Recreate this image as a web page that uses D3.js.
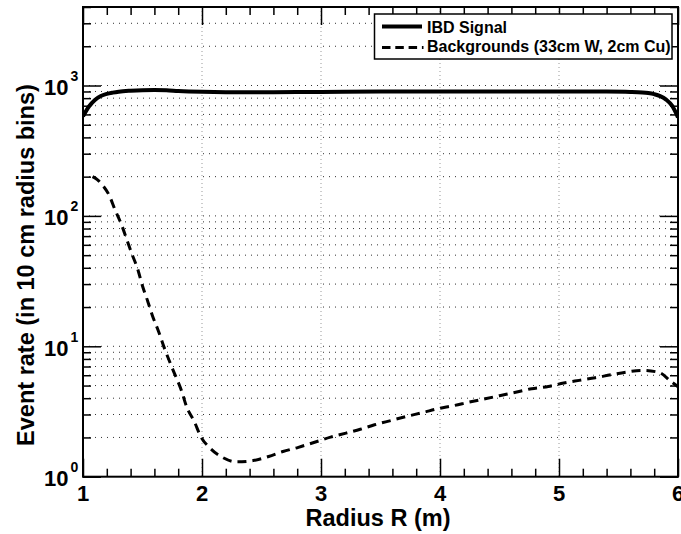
<!DOCTYPE html>
<html><head><meta charset="utf-8">
<script src="https://cdn.jsdelivr.net/npm/d3@7"></script>
<style>
body{margin:0;background:#fff}
svg{display:block}
text{font-family:"Liberation Sans",Arial,Helvetica,sans-serif;font-weight:bold;fill:#000}
</style>
</head><body>
<svg id="chart" width="681" height="534"></svg>
<script>
// ---- data ----
const radiusSignal = [1.0, 1.05, 1.1, 1.15, 1.2, 1.25, 1.3, 1.4, 1.5, 1.6, 1.7, 1.8, 2.0, 2.2, 2.4, 2.6, 3.0, 3.5, 4.0, 4.5, 5.0, 5.4, 5.6, 5.7, 5.75, 5.8, 5.85, 5.9, 5.95, 6.0];
const ibdSignal    = [580, 690, 775, 830, 862, 882, 897, 912, 920, 922, 918, 908, 895, 888, 886, 888, 893, 898, 898, 898, 900, 898, 893, 885, 875, 858, 830, 780, 700, 570];
const radiusBkg = [1.08, 1.12, 1.16, 1.22, 1.27, 1.325, 1.37, 1.415, 1.46, 1.50, 1.545, 1.585, 1.635, 1.68, 1.75, 1.83, 1.87, 1.935, 1.99, 2.07, 2.17, 2.29, 2.43, 2.56, 2.68, 2.81, 2.94, 3.08, 3.21, 3.33, 3.45, 3.59, 3.72, 3.86, 3.98, 4.11, 4.245, 4.38, 4.50, 4.645, 4.77, 4.91, 5.04, 5.17, 5.305, 5.44, 5.57, 5.70, 5.84, 5.94, 6.0];
const bkgRate   = [200, 190, 174, 144, 111, 85, 65, 50, 39, 29, 22, 17, 13, 9.9, 6.8, 4.5, 3.45, 2.65, 2.03, 1.65, 1.41, 1.30, 1.33, 1.43, 1.56, 1.68, 1.83, 2.01, 2.16, 2.31, 2.5, 2.70, 2.90, 3.11, 3.32, 3.50, 3.73, 3.96, 4.18, 4.46, 4.73, 4.92, 5.23, 5.48, 5.74, 6.06, 6.35, 6.54, 6.31, 5.38, 4.9];
const xTickLabels = ["1", "2", "3", "4", "5", "6"];
const xMajor = [1, 2, 3, 4, 5, 6];
const yDecades = [1, 10, 100, 1000];
const yDecadeExp = ["0", "1", "2", "3"];
const legendLabels = ["IBD Signal", "Backgrounds (33cm W, 2cm Cu)"];
const xTitle = "Radius R (m)";
const yTitle = "Event rate (in 10 cm radius bins)";

// ---- layout ----
const L = 83, R = 678, T = 7, B = 476.7;
const svg = d3.select("#chart");
const x = d3.scaleLinear().domain([1, 6]).range([L, R]);
const y = d3.scaleLog().domain([1, 4000]).range([B, T]);

const xMinor = d3.range(1, 6.001, 0.2).map(v => +v.toFixed(1)).filter(v => !xMajor.includes(v));
const yAll = [];
yDecades.forEach(d => { for (let k = 1; k <= 9; k++) { const v = k * d; if (v <= 4000) yAll.push(v); } });
const yMinor = yAll.filter(v => !yDecades.includes(v));

// grid
const grid = svg.append("g");
grid.selectAll("line.h").data(yAll.filter(v => v > 1)).join("line")
  .attr("x1", L).attr("x2", R).attr("y1", d => y(d)).attr("y2", d => y(d))
  .attr("stroke", "#333").attr("stroke-width", 1).attr("stroke-dasharray", "1,5");
grid.selectAll("line.v").data(xMajor.filter(v => v > 1 && v < 6)).join("line")
  .attr("y1", T).attr("y2", B).attr("x1", d => x(d)).attr("x2", d => x(d))
  .attr("stroke", "#999").attr("stroke-width", 1).attr("stroke-dasharray", "1,3");

// axes ticks (inward)
function ticks(axisFn, scale, vals, size, transform) {
  const g = svg.append("g").attr("transform", transform)
    .call(axisFn(scale).tickValues(vals).tickSize(-size).tickFormat(""));
  g.select(".domain").remove();
  g.selectAll(".tick line").attr("stroke", "#000").attr("stroke-width", 1.5);
}
ticks(d3.axisBottom, x, xMinor, 8, `translate(0,${B})`);
ticks(d3.axisBottom, x, xMajor, 18, `translate(0,${B})`);
ticks(d3.axisTop, x, xMinor, 8, `translate(0,${T})`);
ticks(d3.axisTop, x, xMajor, 18, `translate(0,${T})`);
ticks(d3.axisLeft, y, yMinor, 8, `translate(${L},0)`);
ticks(d3.axisLeft, y, yDecades, 18, `translate(${L},0)`);
ticks(d3.axisRight, y, yMinor, 8, `translate(${R},0)`);
ticks(d3.axisRight, y, yDecades, 18, `translate(${R},0)`);

// clip
svg.append("clipPath").attr("id", "clip").append("rect")
  .attr("x", L).attr("y", T).attr("width", R - L).attr("height", B - T);

const line = d3.line().curve(d3.curveMonotoneX);
svg.append("path")
  .attr("clip-path", "url(#clip)")
  .attr("d", line(radiusSignal.map((r, i) => [x(r), y(ibdSignal[i])])))
  .attr("fill", "none").attr("stroke", "#000").attr("stroke-width", 4);
svg.append("path")
  .attr("clip-path", "url(#clip)")
  .attr("d", line(radiusBkg.map((r, i) => [x(r), y(bkgRate[i])])))
  .attr("fill", "none").attr("stroke", "#000").attr("stroke-width", 3)
  .attr("stroke-dasharray", "9,6");

// frame
svg.append("rect").attr("x", L).attr("y", T).attr("width", R - L).attr("height", B - T)
  .attr("fill", "none").attr("stroke", "#000").attr("stroke-width", 2);

// tick labels
svg.append("g").selectAll("text").data(xMajor).join("text")
  .attr("x", d => x(d)).attr("y", 501).attr("text-anchor", "middle")
  .attr("font-size", 22).text((d, i) => xTickLabels[i]);
const yl = svg.append("g").selectAll("g").data(yDecades).join("g");
yl.append("text").attr("x", 68.5).attr("y", d => y(d) + 9.5)
  .attr("text-anchor", "end").attr("font-size", 22).text("10");
yl.append("text").attr("x", 70.5).attr("y", d => y(d) - 4.5)
  .attr("font-size", 14).text((d, i) => yDecadeExp[i]);

// axis titles
svg.append("text").attr("x", 378).attr("y", 526).attr("text-anchor", "middle")
  .attr("font-size", 23.5).text(xTitle);
svg.append("text").attr("transform", "translate(34,265) rotate(-90)")
  .attr("text-anchor", "middle").attr("font-size", 23.5).text(yTitle);

// legend
const lg = svg.append("g");
lg.append("rect").attr("x", 374.5).attr("y", 14).attr("width", 297.5).attr("height", 45)
  .attr("fill", "#fff").attr("stroke", "#000").attr("stroke-width", 1.5);
lg.append("line").attr("x1", 382).attr("x2", 422).attr("y1", 26.5).attr("y2", 26.5)
  .attr("stroke", "#000").attr("stroke-width", 4);
lg.append("line").attr("x1", 382).attr("x2", 423.5).attr("y1", 47.5).attr("y2", 47.5)
  .attr("stroke", "#000").attr("stroke-width", 3).attr("stroke-dasharray", "8.5,4.8");
lg.append("text").attr("x", 427).attr("y", 33).attr("font-size", 16).text(legendLabels[0]);
lg.append("text").attr("x", 427).attr("y", 51.5).attr("font-size", 16).text(legendLabels[1]);
</script>
</body></html>
